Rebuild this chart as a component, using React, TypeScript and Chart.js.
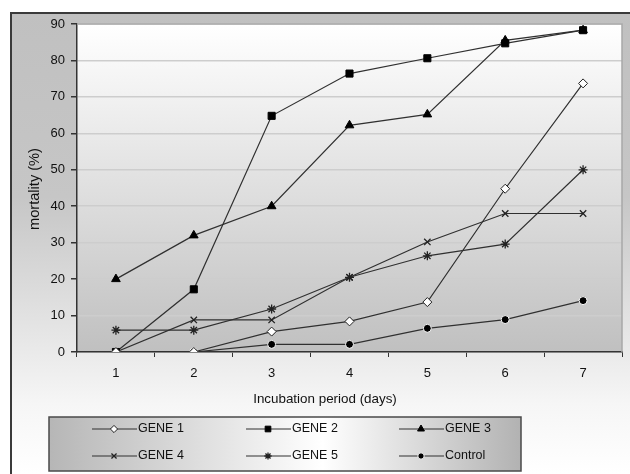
import React, { useEffect, useRef } from "react";
import { Chart, registerables } from "chart.js";
import { drawPoint } from "chart.js/helpers";

Chart.register(...registerables);

const days = ["1", "2", "3", "4", "5", "6", "7"];
const gene1 = [0, 0, 5.6, 8.4, 13.7, 44.8, 73.7];
const gene2 = [0, 17.2, 64.8, 76.4, 80.6, 84.7, 88.3];
const gene3 = [20, 32, 40, 62.2, 65.2, 85.5, 88.3];
const gene4 = [0, 8.8, 8.8, 20.5, 30.2, 38, 38];
const gene5 = [6, 6, 11.8, 20.5, 26.4, 29.6, 50];
const control = [0, 0, 2.1, 2.1, 6.5, 8.9, 14.1];
const seriesNames = ["GENE 1", "GENE 2", "GENE 3", "GENE 4", "GENE 5", "Control"];
const xTitle = "Incubation period (days)";
const yTitle = "mortality (%)";

const FONT = "'Liberation Sans', Arial, Helvetica, sans-serif";
const LINE = "#303030";

const styles = [
  { pointStyle: "rectRot", radius: 4.5, bg: "#ffffff", border: "#222", bw: 1 },
  { pointStyle: "rect", radius: 5, bg: "#000", border: "#000", bw: 1 },
  { pointStyle: "triangle", radius: 5, bg: "#000", border: "#000", bw: 1 },
  { pointStyle: "crossRot", radius: 4.5, bg: "#222", border: "#222", bw: 1.3 },
  { pointStyle: "star", radius: 4.5, bg: "#222", border: "#222", bw: 1.3 },
  { pointStyle: "circle", radius: 4, bg: "#000", border: "#ffffff", bw: 1 },
];

const decorPlugin = {
  id: "decor",
  beforeDraw(chart: any) {
    const { ctx, chartArea: a, width, height } = chart;
    ctx.save();
    let g = ctx.createLinearGradient(0, 12, 0, height);
    g.addColorStop(0, "#c0c0c0");
    g.addColorStop(0.4, "#c6c6c6");
    g.addColorStop(0.85, "#f6f6f6");
    g.addColorStop(1, "#ffffff");
    ctx.fillStyle = g;
    ctx.fillRect(10, 12, width - 10, height - 12);
    ctx.strokeStyle = "#3a3a3a";
    ctx.lineWidth = 2;
    ctx.beginPath();
    ctx.moveTo(11, height);
    ctx.lineTo(11, 13);
    ctx.lineTo(width, 13);
    ctx.stroke();
    g = ctx.createLinearGradient(0, a.top, 0, a.bottom);
    g.addColorStop(0, "#ffffff");
    g.addColorStop(1, "#c0c0c0");
    ctx.fillStyle = g;
    ctx.fillRect(a.left, a.top, a.right - a.left, a.bottom - a.top);
    ctx.restore();
  },
  afterDraw(chart: any) {
    const { ctx, chartArea: a } = chart;
    ctx.save();
    ctx.strokeStyle = "#a8a8a8";
    ctx.lineWidth = 1.5;
    ctx.beginPath();
    ctx.moveTo(a.left, a.top);
    ctx.lineTo(a.right, a.top);
    ctx.lineTo(a.right, a.bottom);
    ctx.stroke();
    ctx.fillStyle = "#111";
    ctx.textAlign = "center";
    ctx.textBaseline = "middle";
    ctx.font = `13.4px ${FONT}`;
    ctx.fillText(xTitle, 325, 399);
    ctx.save();
    ctx.translate(35, 189);
    ctx.rotate(-Math.PI / 2);
    ctx.font = `14.6px ${FONT}`;
    ctx.fillText(yTitle, 0, 0);
    ctx.restore();
    const lx = 49, ly = 417, lw = 472, lh = 54;
    const g = ctx.createLinearGradient(lx, 0, lx + lw, 0);
    g.addColorStop(0, "#b6b6b6");
    g.addColorStop(0.58, "#ffffff");
    g.addColorStop(1, "#b2b2b2");
    ctx.fillStyle = g;
    ctx.fillRect(lx, ly, lw, lh);
    ctx.strokeStyle = "#4a4a4a";
    ctx.lineWidth = 1.5;
    ctx.strokeRect(lx, ly, lw, lh);
    const cols = [92, 246, 399];
    const rows = [429, 456];
    chart.data.datasets.forEach((ds: any, i: number) => {
      const x0 = cols[i % 3];
      const y0 = rows[Math.floor(i / 3)];
      ctx.strokeStyle = LINE;
      ctx.lineWidth = 1.2;
      ctx.beginPath();
      ctx.moveTo(x0, y0);
      ctx.lineTo(x0 + 45, y0);
      ctx.stroke();
      const st = styles[i];
      ctx.fillStyle = st.bg;
      ctx.strokeStyle = st.border;
      ctx.lineWidth = st.bw;
      drawPoint(ctx, { pointStyle: st.pointStyle, radius: st.radius * 0.8, rotation: 0, borderWidth: st.bw }, x0 + 22, y0);
      ctx.fillStyle = "#111";
      ctx.font = `12.5px ${FONT}`;
      ctx.textAlign = "left";
      ctx.textBaseline = "middle";
      ctx.fillText(ds.label, x0 + 46, y0);
    });
    ctx.restore();
  },
};

export default function App() {
  const ref = useRef<HTMLCanvasElement>(null);
  useEffect(() => {
    Chart.defaults.font.family = FONT;
    const series = [gene1, gene2, gene3, gene4, gene5, control];
    const chart = new Chart(ref.current as HTMLCanvasElement, {
      type: "line",
      data: {
        labels: days,
        datasets: series.map((d, i) => ({
          label: seriesNames[i],
          data: d,
          borderColor: LINE,
          borderWidth: 1.2,
          pointStyle: styles[i].pointStyle as any,
          pointRadius: styles[i].radius,
          pointBackgroundColor: styles[i].bg,
          pointBorderColor: styles[i].border,
          pointBorderWidth: styles[i].bw,
          tension: 0,
          fill: false,
        })),
      },
      options: {
        responsive: false,
        animation: false,
        events: [],
        layout: { padding: { left: 37, top: 24, right: 8, bottom: 92 } },
        plugins: { legend: { display: false }, tooltip: { enabled: false } },
        scales: {
          x: {
            type: "category",
            offset: true,
            afterFit: (s: any) => { s.height = 30; },
            grid: { display: true, drawOnChartArea: false, drawTicks: true, tickLength: 5, tickColor: "#333", offset: true },
            border: { display: true, color: "#333", width: 1.5 },
            ticks: { color: "#111", font: { size: 13 }, padding: 9 },
          },
          y: {
            min: 0,
            max: 90,
            afterFit: (s: any) => { s.width = 40; },
            ticks: { stepSize: 10, padding: 6, color: "#111", font: { size: 13 } },
            grid: { color: "#cdcdcd", lineWidth: 1.5, tickLength: 6, tickColor: "#333", drawTicks: true },
            border: { display: true, color: "#333", width: 1.5 },
          },
        },
      },
      plugins: [decorPlugin],
    });
    return () => chart.destroy();
  }, []);
  return (
    <div style={{ position: "absolute", left: 0, top: 0, width: 630, height: 474 }}>
      <canvas ref={ref} width={630} height={474} style={{ display: "block" }} />
    </div>
  );
}
